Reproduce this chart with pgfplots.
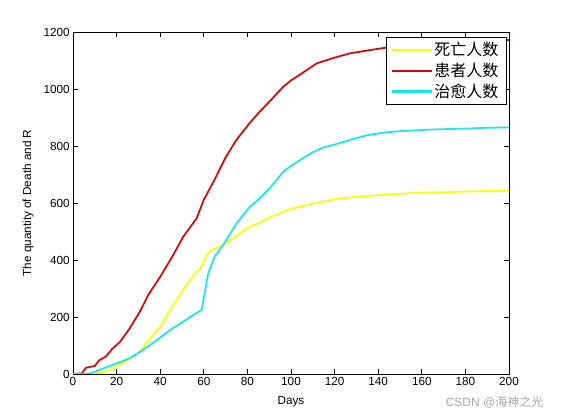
\documentclass[border=0pt]{standalone}
\usepackage{fontspec}
\setmainfont{Liberation Sans}
\newfontfamily\cjk{Noto Sans CJK SC}
\usepackage{pgfplots}
\pgfplotsset{compat=1.18}
\definecolor{mred}{rgb}{0.84,0.02,0.02}
\definecolor{myel}{rgb}{1,1,0}
\definecolor{mcyan}{rgb}{0.1,0.9,0.95}
\begin{document}
\begin{tikzpicture}
\path[use as bounding box] (-54.75pt,-34.5pt) rectangle (366.75pt,280.5pt);
\begin{axis}[
  at={(0,0)}, anchor=south west,
  scale only axis, width=327pt, height=256.5pt,
  xmin=0, xmax=200, ymin=0, ymax=1200,
  xtick={0,20,...,200}, ytick={0,200,...,1200},
  tick align=inside, tick pos=both,
  major tick length=4pt,
  axis line style={black, line width=0.5pt},
  tick style={black, line width=0.5pt},
  /pgf/number format/assume math mode=true,
  /pgf/number format/1000 sep={},
  tick label style={font=\fontsize{8.8}{10}\selectfont},
  xticklabel style={yshift=1pt},
  yticklabel style={xshift=1pt},
  label style={font=\fontsize{8.8}{10}\selectfont},
  xlabel={Days},
  ylabel={The quantity of Death and R},
  xlabel style={at={(axis description cs:0.5,-0.082)}, anchor=center},
  ylabel style={at={(axis description cs:-0.103,0.5)}, anchor=center},
  legend style={at={(rel axis cs:0.995,0.985)}, anchor=north east,
    draw=black, line width=0.5pt, font=\cjk\fontsize{12}{13}\selectfont,
    inner xsep=4pt, inner ysep=1.5pt, row sep=0pt, cells={anchor=west}},
  legend cell align=left,
  legend image code/.code={\fill[#1, draw=none] (0pt,-0.8pt) rectangle (30pt,0.8pt);},
]
\addplot[myel, line width=1.3pt] coordinates {
(0,0) (9,0) (15,8) (20,26) (25,48) (30.7,78) (35.3,125) (40,166) (46,242)
(52,312) (56.7,359) (58.3,368) (61.3,418) (63,432) (66,443) (69,453)
(75,485) (81,517) (86,532) (90,548) (95,565) (100,580) (104,587) (110,598)
(115,605) (120,613) (127,620) (140,627) (157.6,636) (170,638) (180,640)
(190,642) (200,643)};
\addlegendentry{死亡人数}
\addplot[mred, line width=1.3pt] coordinates {
(0,0) (4,2) (6,22) (10,28) (12,48) (15,61) (18,88) (21.6,113) (26,160)
(30.7,219) (34.5,277) (40,341) (46,418) (50.6,482) (56.7,546) (60,611)
(65,683) (70,760) (75,822) (81,880) (85,915) (90,955) (96.5,1008) (100,1030)
(105,1055) (111.8,1090) (120,1110) (127,1125) (135,1135) (141.7,1143)
(150,1150) (160,1158) (170,1163) (180,1167) (190,1170) (200,1172)};
\addlegendentry{患者人数}
\addplot[mcyan, line width=1.3pt] coordinates {
(0,0) (8,2) (14,20) (20,37) (26,55) (32,84) (38.4,119) (44.5,154) (50.6,184)
(55.2,207) (59,225) (60.1,271) (62,353) (65,412) (68.9,453) (75,528)
(81.2,587) (85,612) (90,650) (96.5,710) (100,730) (105,755) (110,778)
(114.8,795) (120,805) (127,821) (135,838) (142.3,847) (150,852) (165,858)
(180,861) (190,864) (200,865)};
\addlegendentry{治愈人数}
\end{axis}
\node[anchor=east, text=gray!70, font=\fontsize{9}{10}\selectfont] at (356.25pt,-21pt) {CSDN @{\cjk 海神之光}};
\end{tikzpicture}
\end{document}
